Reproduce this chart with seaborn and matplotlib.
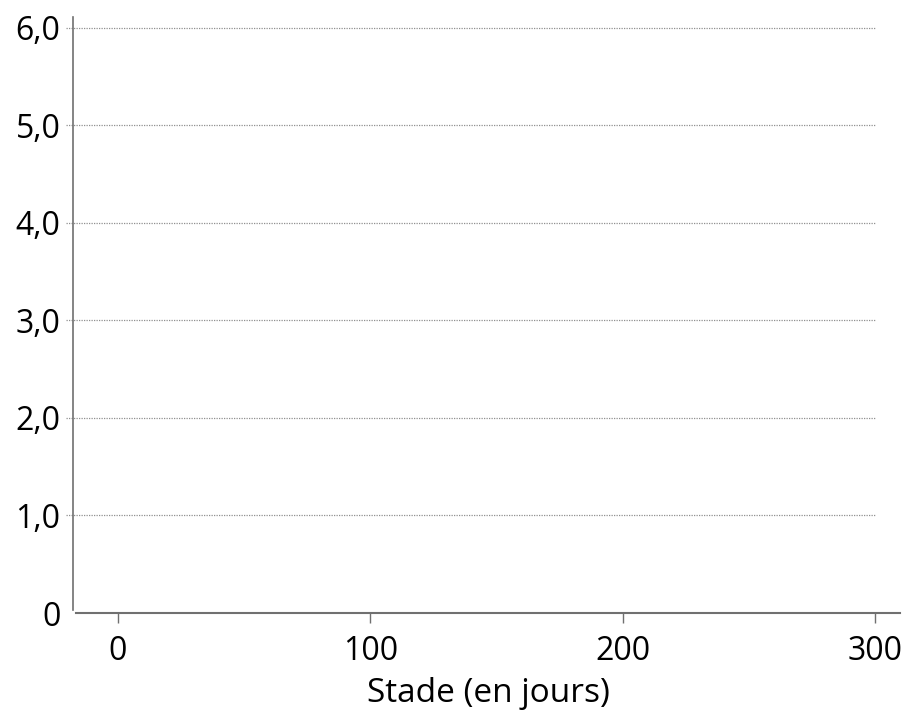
import matplotlib
matplotlib.use("Agg")
import matplotlib.pyplot as plt
import seaborn as sns
import pandas as pd

x_ticks = [0, 100, 200, 300]
x_tick_labels = ["0", "100", "200", "300"]
y_ticks = [0, 1, 2, 3, 4, 5, 6]
y_tick_labels = ["0", "1,0", "2,0", "3,0", "4,0", "5,0", "6,0"]
x_label = "Stade (en jours)"

sns.set_style("white")
plt.rcParams["font.family"] = ["Open Sans", "DejaVu Sans"]
plt.rcParams["text.color"] = "black"
plt.rcParams["xtick.color"] = "black"
plt.rcParams["ytick.color"] = "black"
plt.rcParams["axes.labelcolor"] = "black"

fig = plt.figure(figsize=(9.02, 7.11), dpi=100)
W, H = 902, 711
left, right, bottom, top = 76.4, 900, 613, 17
ax = fig.add_axes([left / W, (H - bottom) / H, (right - left) / W, (bottom - top) / H])

empty = pd.DataFrame({"x": pd.Series([], dtype=float), "y": pd.Series([], dtype=float)})
sns.lineplot(data=empty, x="x", y="y", ax=ax)

ax.set_xlim(-16.5, 310)
ax.set_ylim(0, 6.11)

for yv in y_ticks[1:]:
    ax.axhline(yv, xmin=-0.0126, xmax=0.971, color="#909090", lw=0.9,
               linestyle=(0, (1, 1)), clip_on=False, zorder=1)

sns.despine(ax=ax)
ax.spines["left"].set_position(("outward", 2.4))
ax.spines["left"].set_bounds(0.03, 6.11)
ax.spines["left"].set_color("#707070")
ax.spines["left"].set_linewidth(1.2)
ax.spines["bottom"].set_color("#707070")
ax.spines["bottom"].set_linewidth(1.5)

ax.set_xticks(x_ticks)
ax.set_xticklabels(x_tick_labels)
ax.set_yticks(y_ticks)
ax.set_yticklabels(y_tick_labels)
ax.tick_params(axis="x", direction="out", length=7, width=1, color="#707070",
               labelcolor="black", labelsize=23, pad=9, bottom=True)
ax.tick_params(axis="y", length=0, labelcolor="black", labelsize=23, pad=9)
ax.set_xlabel(x_label, fontsize=24, labelpad=6, color="black")
ax.set_ylabel("")

fig.savefig("out.png", dpi=100)
